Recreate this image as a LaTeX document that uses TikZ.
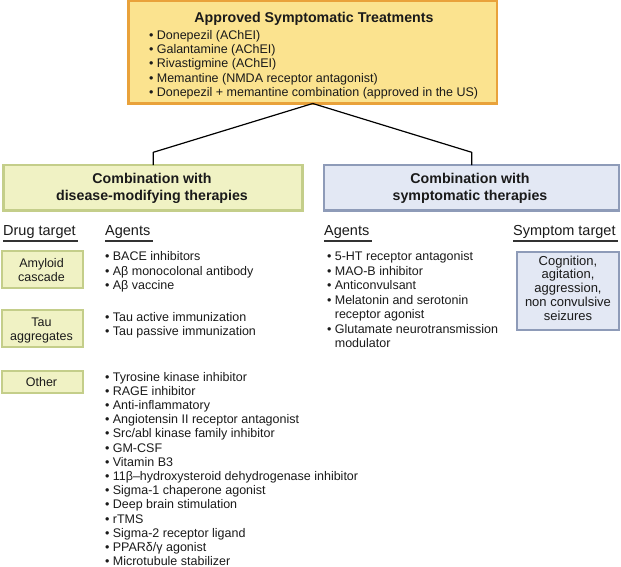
\documentclass[tikz,border=0pt]{standalone}
\usepackage{fontspec}
\setmainfont{Liberation Sans}
\usetikzlibrary{shadows}
\definecolor{yfill}{HTML}{FBE38F}
\definecolor{yline}{HTML}{E9A23B}
\definecolor{gfill}{HTML}{F0F2C4}
\definecolor{gline}{HTML}{C4CE8A}
\definecolor{bfill}{HTML}{E3E8F4}
\definecolor{bline}{HTML}{8E9BB8}
\definecolor{txtc}{HTML}{1A1A1A}
\definecolor{ulc}{HTML}{333333}
\begin{document}
\begin{tikzpicture}[x=1pt,y=-1pt,
  txt/.style={inner sep=0pt, outer sep=0pt, text=txtc, font=\fontsize{12.5}{14.5}\selectfont},
  lst/.style={txt, anchor=base west},
  ctr/.style={txt, anchor=base},
  sym/.style={inner sep=0pt, text=txtc, font=\fontsize{13}{14}\selectfont, anchor=base},
  bold/.style={inner sep=0pt, text=txtc, font=\fontsize{14.2}{16}\selectfont\bfseries, anchor=base},
  hdr/.style={inner sep=0pt, text=txtc, font=\fontsize{14.5}{16}\selectfont, anchor=base west},
  boxbase/.style={inner sep=0pt, outer sep=0pt, anchor=north west, line width=2.5pt},
  ybox/.style={boxbase, draw=yline, fill=yfill},
  gbox/.style={boxbase, draw=gline, fill=gfill},
  bbox/.style={boxbase, draw=bline, fill=bfill},
  ul/.style={draw=ulc, line width=2pt},
  conn/.style={draw=black, line width=1.2pt, line join=round}
]
\useasboundingbox (0,0) rectangle (621,567);

% boxes
\node[ybox, drop shadow={shadow xshift=1pt, shadow yshift=-1pt, fill=black!40}, minimum width=368.5pt, minimum height=102.5pt] (top) at (128.5,1) {};
\node[gbox, minimum width=298.8pt, minimum height=45.5pt] (lbox) at (3.7,165) {};
\node[bbox, minimum width=295pt, minimum height=45.5pt] (rbox) at (324,165) {};
\node[gbox, minimum width=81pt, minimum height=37pt] (amy) at (2,251) {};
\node[gbox, minimum width=81pt, minimum height=37pt] (tau) at (2,310) {};
\node[gbox, minimum width=81pt, minimum height=22pt] (oth) at (2,371) {};
\node[bbox, minimum width=102pt, minimum height=78pt] (symb) at (517,252) {};

% connectors
\coordinate (kl) at (153.3,152.3);
\coordinate (kr) at (471.7,152.3);
\draw[conn] (top.south) -- (kl) -- (kl |- lbox.north);
\draw[conn] (top.south) -- (kr) -- (kr |- rbox.north);

% top box text
\node[bold] (title) at (314,22.7) {Approved Symptomatic Treatments};
\foreach \t [count=\i] in {{Donepezil (AChEI)},{Galantamine (AChEI)},{Rivastigmine (AChEI)},{Memantine (NMDA receptor antagonist)},{Donepezil + memantine combination (approved in the US)}}
  \node[lst] (ap\i) at (149,{39.5+14.2*(\i-1)}) {• \t};

% headings
\node[bold] (lh1) at (152,183.3) {Combination with};
\node[bold] (lh2) at (152,200) {disease-modifying therapies};
\node[bold] (rh1) at (470,183.3) {Combination with};
\node[bold] (rh2) at (470,200) {symptomatic therapies};

% column headers
\node[hdr] (dt) at (3,235) {Drug target};
\node[hdr] (ag1) at (105,235) {Agents};
\node[hdr] (ag2) at (324,235) {Agents};
\node[hdr] (st) at (513,235) {Symptom target};
\foreach \n in {dt,ag1,ag2,st}
  \draw[ul] ([yshift=-5.5pt]\n.base west) -- ([yshift=-5.5pt,xshift=2pt]\n.base east);

% drug target boxes text
\node[ctr] (amy1) at (41.5,267.3) {Amyloid};
\node[ctr] (amy2) at (41.5,281.5) {cascade};
\node[ctr] (tau1) at (41.5,326.3) {Tau};
\node[ctr] (tau2) at (41.5,340.5) {aggregates};
\node[ctr] (oth1) at (41.5,386.5) {Other};

% left agents
\foreach \t [count=\i] in {{BACE inhibitors},{Aβ monocolonal antibody},{Aβ vaccine}}
  \node[lst] (am\i) at (105,{260.5+14.5*(\i-1)}) {• \t};
\foreach \t [count=\i] in {{Tau active immunization},{Tau passive immunization}}
  \node[lst] (ta\i) at (105,{321+14.5*(\i-1)}) {• \t};
\foreach \t [count=\i] in {{Tyrosine kinase inhibitor},{RAGE inhibitor},{Anti-inflammatory},{Angiotensin II receptor antagonist},{Src/abl kinase family inhibitor},{GM-CSF},{Vitamin B3},{11β–hydroxysteroid dehydrogenase inhibitor},{Sigma-1 chaperone agonist},{Deep brain stimulation},{rTMS},{Sigma-2 receptor ligand},{PPARδ/γ agonist},{Microtubule stabilizer}}
  \node[lst] (ot\i) at (105,{381+14.2*(\i-1)}) {• \t};

% right agents
\foreach \t [count=\i] in {{• 5-HT receptor antagonist},{• MAO-B inhibitor},{• Anticonvulsant},{• Melatonin and serotonin},{\phantom{• }receptor agonist},{• Glutamate neurotransmission},{\phantom{• }modulator}}
  \node[lst] (ra\i) at (327,{260.5+14.5*(\i-1)}) {\t};

% symptom target text
\foreach \t [count=\i] in {{Cognition,},{agitation,},{aggression,},{non convulsive},{seizures}}
  \node[sym] (sy\i) at (568,{265+13.8*(\i-1)}) {\t};
\end{tikzpicture}
\end{document}
